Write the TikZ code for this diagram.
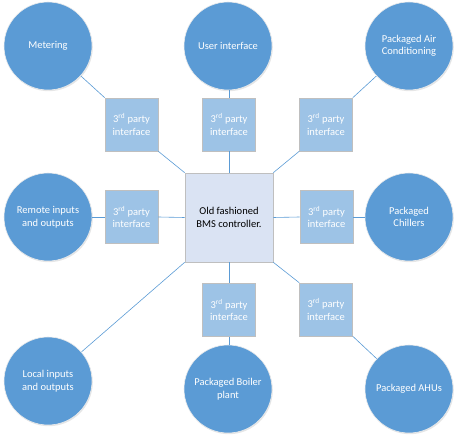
\documentclass[tikz,border=0pt]{standalone}
\usepackage{fontspec}
\setmainfont{Carlito}
\usepackage{xcolor}
\usetikzlibrary{shadows}
\definecolor{bmsblue}{HTML}{5B9BD5}
\definecolor{bmslight}{HTML}{9DC3E6}
\definecolor{bmspale}{HTML}{DAE3F3}
\definecolor{bmsgrey}{HTML}{BFBFBF}

\begin{document}
\begin{tikzpicture}[x=1pt, y=-1pt,
  every node/.style={font=\fontsize{10.5}{12.5}\selectfont, align=center},
  device/.style={circle, fill=bmsblue, draw=white!85!gray, line width=0.6pt,
    minimum size=88pt, inner sep=0pt, text=white,
    drop shadow={opacity=0.2, shadow xshift=0.8pt, shadow yshift=-1.2pt}},
  gateway/.style={rectangle, fill=bmslight, draw=bmsgrey, line width=0.6pt,
    minimum size=53pt, inner sep=0pt, text=white},
  link/.style={draw=bmsblue, line width=0.6pt}]
\useasboundingbox (0,0) rectangle (459,441);

% central controller
\node[rectangle, fill=bmspale, draw=bmsgrey, line width=0.6pt,
      minimum width=88pt, minimum height=89pt, inner sep=0pt] (ctrl) at (229,217.5)
      {Old fashioned\\BMS controller.};

% field devices and systems
\node[device] (meter)  at (48,46)  {Metering};
\node[device] (userif) at (228,46) {User interface};
\node[device] (pac)    at (409,46) {Packaged Air\\Conditioning};
\node[device] (remote) at (48,217) {Remote inputs\\and outputs};
\node[device] (chill)  at (409,217) {Packaged\\Chillers};
\node[device] (local)  at (48,381) {Local inputs\\and outputs};
\node[device] (boiler) at (228,389) {Packaged Boiler\\plant};
\node[device] (ahu)    at (409,389) {Packaged AHUs};

% third party gateways
\node[gateway] (gwmeter)  at (131.5,124.5) {3\textsuperscript{rd} party\\interface};
\node[gateway] (gwuser)   at (229,124.5)   {3\textsuperscript{rd} party\\interface};
\node[gateway] (gwpac)    at (326,124.5)   {3\textsuperscript{rd} party\\interface};
\node[gateway] (gwremote) at (131.5,217)   {3\textsuperscript{rd} party\\interface};
\node[gateway] (gwchill)  at (326.5,217)   {3\textsuperscript{rd} party\\interface};
\node[gateway] (gwboiler) at (229,310)     {3\textsuperscript{rd} party\\interface};
\node[gateway] (gwahu)    at (326,309.5)   {3\textsuperscript{rd} party\\interface};

% links
\draw[link] (ctrl.north west) -- (gwmeter.south east);
\draw[link] (gwmeter.north west) -- (meter);
\draw[link] (ctrl.north) -- (gwuser.south);
\draw[link] (gwuser.north) -- (gwuser.north |- userif.south);
\draw[link] (ctrl.north east) -- (gwpac.south west);
\draw[link] (gwpac.north east) -- (pac);
\draw[link] (ctrl.west) -- (gwremote.east);
\draw[link] (gwremote.west) -- (remote);
\draw[link] (ctrl.east) -- (gwchill.west);
\draw[link] (gwchill.east) -- (chill);
\draw[link] (ctrl.south west) -- (local);
\draw[link] (ctrl.south) -- (gwboiler.north);
\draw[link] (gwboiler.south) -- (gwboiler.south |- boiler.north);
\draw[link] (ctrl.south east) -- (gwahu.north west);
\draw[link] (gwahu.south east) -- (ahu);
\end{tikzpicture}
\end{document}
